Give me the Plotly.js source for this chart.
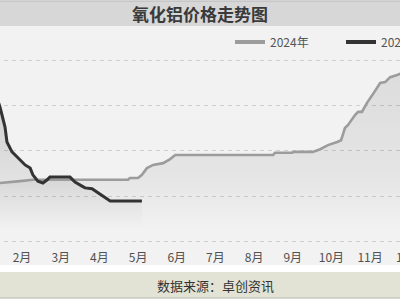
<!DOCTYPE html>
<html>
<head>
<meta charset="utf-8">
<script src="https://cdn.plot.ly/plotly-3.0.1.min.js"></script>
<style>
html,body{margin:0;padding:0;overflow:hidden;background:#f2f2f2;width:400px;height:300px;}
#chart{position:absolute;left:-20px;top:0;width:520px;height:300px;}
</style>
</head>
<body>
<div id="chart"></div>
<script>
// Month positions (1 = start of Jan), values in 元/吨
const months = [1,2,3,4,5,6,7,8,9,10,11,12];
const monthLabels = ["1月","2月","3月","4月","5月","6月","7月","8月","9月","10月","11月","12月"];

const x2024 = [0.91,1.43,1.95,2.28,4.74,4.79,5.00,5.10,5.23,5.39,5.65,5.83,5.96,8.49,8.54,8.98,9.03,9.52,9.71,9.91,10.15,10.25,10.35,10.43,10.61,10.69,10.79,10.92,11.08,11.26,11.39,11.52,11.70,11.91,12.29];
const y2024 = [3270,3290,3330,3360,3360,3400,3400,3470,3620,3690,3730,3820,3910,3910,3960,3960,3980,3980,4040,4130,4200,4240,4510,4580,4800,4870,4870,5070,5270,5510,5530,5640,5690,5760,5800];

const x2025 = [1.35,1.43,1.56,1.61,1.74,1.82,1.95,2.08,2.21,2.28,2.41,2.54,2.65,2.72,3.24,3.37,3.55,3.63,3.81,3.94,4.09,4.28,5.10];
const y2025 = [5180,4980,4530,4200,3980,3910,3800,3690,3620,3470,3330,3290,3360,3420,3420,3310,3220,3180,3160,3090,3000,2890,2890];

const seriesNames = ["2024年","2025年"];
const seriesColors = ["#9c9c9c","#333333"];

const font = "'Noto Sans CJK SC','Noto Sans',sans-serif";

const traces = [
  {x:x2024,y:y2024,mode:"none",fill:"tozeroy",showlegend:false,hoverinfo:"skip",
   fillgradient:{type:"vertical",start:2200,stop:5800,
     colorscale:[[0,"rgba(0,0,0,0.0)"],[0.35,"rgba(0,0,0,0.055)"],[1,"rgba(0,0,0,0.09)"]]}},
  {x:x2025,y:y2025,mode:"none",fill:"tozeroy",showlegend:false,hoverinfo:"skip",
   fillgradient:{type:"vertical",start:2300,stop:5000,
     colorscale:[[0,"rgba(0,0,0,0.0)"],[0.45,"rgba(0,0,0,0.075)"],[1,"rgba(0,0,0,0.14)"]]}},
  {x:x2024,y:y2024,mode:"lines",name:seriesNames[0],showlegend:false,line:{color:seriesColors[0],width:2.6}},
  {x:x2025,y:y2025,mode:"lines",name:seriesNames[1],showlegend:false,line:{color:seriesColors[1],width:3}},
  // legend entries (thicker sample lines, as in the reference)
  {x:[null],y:[null],mode:"lines",name:seriesNames[0],line:{color:seriesColors[0],width:4}},
  {x:[null],y:[null],mode:"lines",name:seriesNames[1],line:{color:seriesColors[1],width:4}}
];

// page px -> paper coords helpers (plot area: page x -20..420, page y 50..246)
const px = p => (p+20)/440;
const py = q => (246-q)/196;

const layout = {
  width:520,height:300,
  margin:{l:0,r:80,t:50,b:54},
  paper_bgcolor:"#f2f2f2",
  plot_bgcolor:"#f2f2f2",
  font:{family:font,color:"#555",size:12},
  xaxis:{range:[0.913,12.291],tickvals:months,ticktext:monthLabels,showgrid:false,zeroline:false,
    showline:false,ticks:"",tickfont:{size:12,color:"#505050"},ticklabelstandoff:3,
    ticklabeloverflow:"allow",fixedrange:true},
  yaxis:{range:[1889,6244],dtick:1000,tick0:0,showticklabels:false,zeroline:false,showline:false,
    gridcolor:"#cfcfcf",griddash:"4px,4px",gridwidth:1,fixedrange:true},
  legend:{orientation:"h",x:px(230),y:py(42),xanchor:"left",yanchor:"middle",
    entrywidth:66,bgcolor:"rgba(0,0,0,0)",font:{size:12,color:"#555"},traceorder:"normal"},
  shapes:[
    {type:"rect",xref:"paper",yref:"paper",x0:-0.2,x1:1.4,y0:py(26),y1:py(1),fillcolor:"#d7d7d7",line:{width:0},layer:"above"},
    {type:"line",xref:"paper",yref:"paper",x0:-0.2,x1:1.4,y0:py(1),y1:py(1),line:{color:"#b5b5b5",width:1},layer:"above"},
    {type:"rect",xref:"paper",yref:"paper",x0:-0.2,x1:1.4,y0:py(265),y1:py(272),fillcolor:"#ffffff",line:{width:0},layer:"above"},
    {type:"rect",xref:"paper",yref:"paper",x0:-0.2,x1:1.4,y0:py(272),y1:py(298),fillcolor:"#e3e3d5",line:{width:0},layer:"above"},
    {type:"line",xref:"paper",yref:"paper",x0:-0.2,x1:1.4,y0:py(298),y1:py(298),line:{color:"#b8b8b0",width:1},layer:"above"},
    {type:"rect",xref:"paper",yref:"paper",x0:-0.2,x1:1.4,y0:py(299),y1:py(301),fillcolor:"#ffffff",line:{width:0},layer:"above"}
  ],
  annotations:[
    {xref:"paper",yref:"paper",x:px(200),y:py(13),xanchor:"center",yanchor:"middle",showarrow:false,
     text:"<b>氧化铝价格走势图</b>",font:{family:font,size:17,color:"#3a3a3a"}},
    {xref:"paper",yref:"paper",x:px(215),y:py(285),xanchor:"center",yanchor:"middle",showarrow:false,
     text:"数据来源：卓创资讯",font:{family:font,size:13,color:"#333"}}
  ]
};

Plotly.newPlot("chart",traces,layout,{displayModeBar:false,staticPlot:true});
</script>
</body>
</html>
